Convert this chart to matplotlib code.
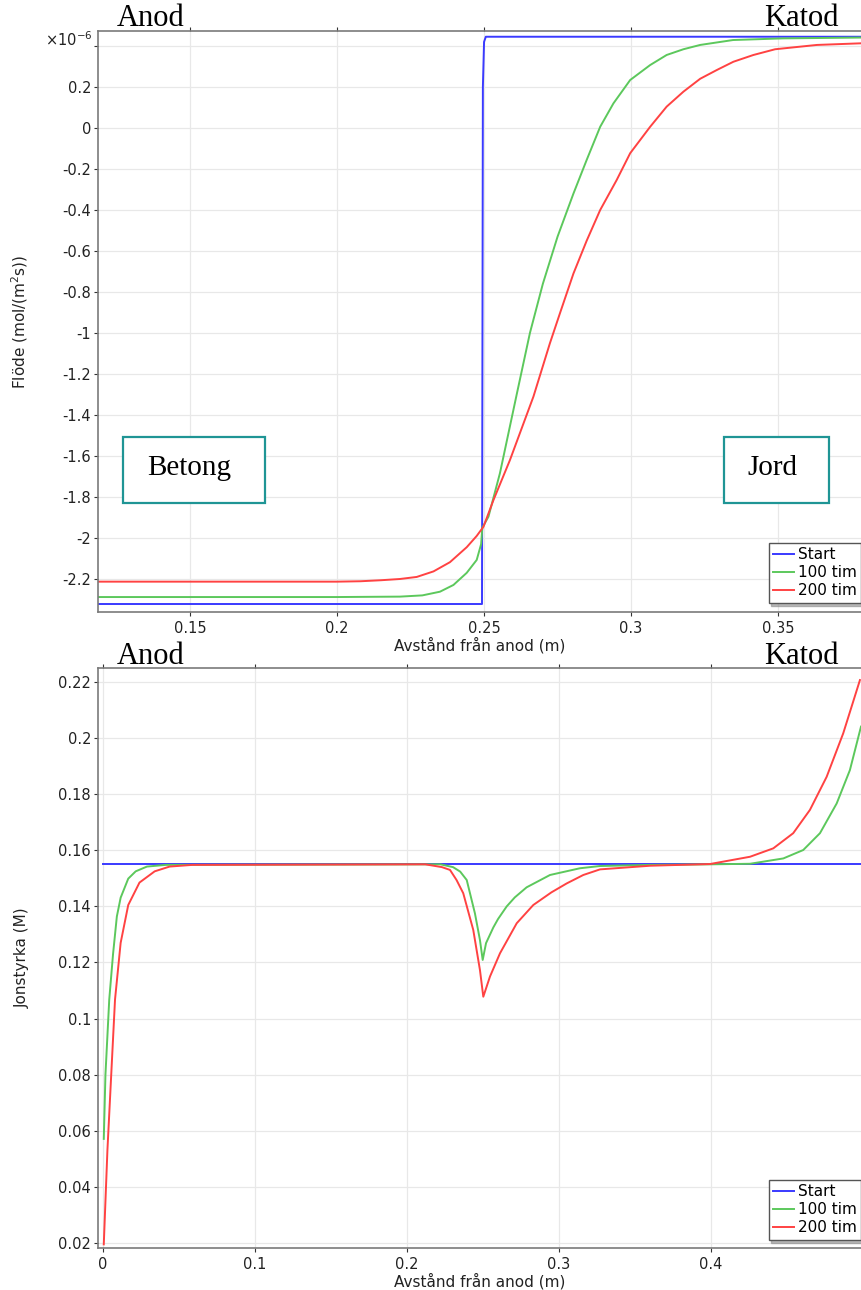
"""Flux and ionic strength profiles between anode and cathode (two stacked panels)."""

import matplotlib

matplotlib.use("Agg")
import matplotlib.pyplot as plt
from matplotlib.patches import Rectangle
from matplotlib.ticker import FuncFormatter, MultipleLocator

# ---- top panel: flux (x1e-6 mol/(m^2 s)) vs distance from anode (m)
flux_start_x = [0.118, 0.2493, 0.2496, 0.2500, 0.2506, 0.3782]
flux_start_y = [-2.322, -2.322, 0.20, 0.42, 0.445, 0.445]

flux_100_x = [0.118, 0.200, 0.2214, 0.229, 0.235, 0.2396, 0.2441, 0.2475, 0.2490, 0.2494,
              0.2515, 0.2554, 0.2611, 0.2656, 0.2700, 0.2750, 0.2804, 0.2849, 0.2895, 0.2940,
              0.2997, 0.3065, 0.3121, 0.3178, 0.3235, 0.3347, 0.3517, 0.3782]
flux_100_y = [-2.288, -2.288, -2.286, -2.28, -2.262, -2.229, -2.17, -2.107, -2.03, -1.95,
              -1.896, -1.684, -1.30, -1.0, -0.76, -0.53, -0.32, -0.156, 0.006, 0.120,
              0.234, 0.307, 0.356, 0.384, 0.405, 0.429, 0.437, 0.441]

flux_200_x = [0.118, 0.200, 0.208, 0.2150, 0.2214, 0.2271, 0.2328, 0.2384, 0.2441, 0.2475,
              0.2498, 0.2532, 0.2588, 0.2668, 0.2724, 0.2759, 0.2804, 0.2849, 0.2895, 0.2951,
              0.2997, 0.3065, 0.3121, 0.3178, 0.3235, 0.3292, 0.3348, 0.3416, 0.3490, 0.3632,
              0.3782]
flux_200_y = [-2.213, -2.213, -2.211, -2.206, -2.2, -2.19, -2.163, -2.118, -2.045, -1.99,
              -1.945, -1.815, -1.62, -1.31, -1.05, -0.90, -0.71, -0.55, -0.40, -0.254,
              -0.123, 0.006, 0.104, 0.177, 0.24, 0.283, 0.323, 0.356, 0.384, 0.405,
              0.413]

# ---- bottom panel: ionic strength (M) vs distance from anode (m)
ion_start_x = [0.0, 0.5]
ion_start_y = [0.155, 0.155]

ion_100_x = [0.0005, 0.0016, 0.0041, 0.0066, 0.0091, 0.0116, 0.0166, 0.0215, 0.0289, 0.0414,
             0.222, 0.2303, 0.2350, 0.2393, 0.2447, 0.2480, 0.2498, 0.2520, 0.2568, 0.2599,
             0.2656, 0.2709, 0.2787, 0.2941, 0.3138, 0.327, 0.36, 0.40, 0.4257, 0.4476,
             0.4607, 0.4717, 0.4827, 0.4914, 0.4987]
ion_100_y = [0.0571, 0.080, 0.1068, 0.123, 0.1364, 0.1431, 0.1499, 0.1525, 0.1542, 0.1548,
             0.155, 0.1540, 0.1524, 0.1494, 0.1375, 0.128, 0.1209, 0.1269, 0.1325, 0.1355,
             0.1400, 0.1432, 0.1468, 0.1512, 0.1536, 0.1544, 0.1548, 0.155, 0.1552, 0.1571,
             0.1601, 0.1661, 0.1767, 0.1886, 0.2041]

ion_200_x = [0.0005, 0.0029, 0.0054, 0.0079, 0.0116, 0.0166, 0.024, 0.034, 0.0438, 0.0588,
             0.2120, 0.2230, 0.2283, 0.2326, 0.2370, 0.2436, 0.2480, 0.2502, 0.2546, 0.2612,
             0.2722, 0.2831, 0.2950, 0.3051, 0.3160, 0.327, 0.36, 0.3993, 0.4257, 0.441,
             0.4541, 0.4651, 0.4761, 0.487, 0.498]
ion_200_y = [0.0195, 0.0531, 0.080, 0.1068, 0.127, 0.1405, 0.1485, 0.1525, 0.1542, 0.1548,
             0.155, 0.1540, 0.1530, 0.1494, 0.1447, 0.1316, 0.1173, 0.1078, 0.115, 0.1233,
             0.1340, 0.1405, 0.1450, 0.1482, 0.1512, 0.1532, 0.1545, 0.1551, 0.1577, 0.1607,
             0.1661, 0.1744, 0.1862, 0.2017, 0.2207]

series_labels = ["Start", "100 tim", "200 tim"]
series_colors = ["#3a3aff", "#5cc85c", "#ff4242"]

W, H = 861, 1290
GRID = "#e8e8e8"
SPINE = "#7a7a7a"


def plain(v, _pos):
    s = f"{v:.10g}"
    return "0" if s in ("-0", "0") else s


def style_axes(ax):
    ax.grid(True, color=GRID, linewidth=0.9)
    ax.set_axisbelow(True)
    for side in ("left", "bottom", "top"):
        ax.spines[side].set_color(SPINE)
        ax.spines[side].set_linewidth(1.2)
    ax.spines["right"].set_visible(False)
    ax.tick_params(axis="both", labelsize=10.5, colors="#333333", labelcolor="#222222",
                   length=3, width=0.8, direction="out")
    ax.tick_params(axis="y", pad=2)
    ax.tick_params(axis="x", top=True)


def add_legend(ax, y_bottom):
    leg = ax.legend(loc="lower right", bbox_to_anchor=(1.0, 1 - y_bottom / H),
                    bbox_transform=fig.transFigure, borderaxespad=0, fontsize=11,
                    handlelength=1.4, handletextpad=0.2, borderpad=0.3, labelspacing=0.2,
                    fancybox=False, shadow={"color": "0.55", "alpha": 0.6}, framealpha=1)
    leg.get_frame().set_edgecolor("#555555")
    leg.get_frame().set_linewidth(1.0)


fig = plt.figure(figsize=(W / 100, H / 100), dpi=100)

# top panel
ax1 = fig.add_axes([98 / W, 1 - 612 / H, (W - 98) / W, (612 - 31) / H])
for xs, ys, lab, col in zip([flux_start_x, flux_100_x, flux_200_x],
                            [flux_start_y, flux_100_y, flux_200_y],
                            series_labels, series_colors):
    ax1.plot(xs, ys, color=col, lw=1.4, label=lab)
ax1.set_xlim(0.1187, 0.3782)
ax1.set_ylim(-2.361, 0.473)
ax1.xaxis.set_major_locator(MultipleLocator(0.05))
ax1.yaxis.set_major_locator(MultipleLocator(0.2))
ax1.xaxis.set_major_formatter(FuncFormatter(plain))
ax1.yaxis.set_major_formatter(FuncFormatter(lambda v, p: "" if v > 0.3 else plain(v, p)))
style_axes(ax1)
ax1.set_xlabel("Avstånd från anod (m)", fontsize=11, labelpad=1, color="#222222")
ax1.set_ylabel("Flöde (mol/(m$^2$s))", fontsize=11, color="#222222")
ax1.yaxis.set_label_coords((30 - 98) / (W - 98), 0.5)
fig.text(92 / W, 1 - 40 / H, r"×10$^{-6}$", ha="right", va="center", fontsize=10.5, color="#222222")
add_legend(ax1, 603)

# bottom panel
ax2 = fig.add_axes([98 / W, 1 - 1248 / H, (W - 98) / W, (1248 - 668) / H])
for xs, ys, lab, col in zip([ion_start_x, ion_100_x, ion_200_x],
                            [ion_start_y, ion_100_y, ion_200_y],
                            series_labels, series_colors):
    ax2.plot(xs, ys, color=col, lw=1.4, label=lab)
ax2.set_xlim(-0.0033, 0.4987)
ax2.set_ylim(0.0182, 0.225)
ax2.xaxis.set_major_locator(MultipleLocator(0.1))
ax2.yaxis.set_major_locator(MultipleLocator(0.02))
ax2.xaxis.set_major_formatter(FuncFormatter(plain))
ax2.yaxis.set_major_formatter(FuncFormatter(plain))
style_axes(ax2)
ax2.set_xlabel("Avstånd från anod (m)", fontsize=11, labelpad=1, color="#222222")
ax2.set_ylabel("Jonstyrka (M)", fontsize=11, color="#222222")
ax2.yaxis.set_label_coords((30 - 98) / (W - 98), 0.5)
add_legend(ax2, 1240)

# electrode labels (serif, like the annotated original)
serif = ["Liberation Serif", "DejaVu Serif"]
for yc in (19, 656):
    fig.text(151 / W, 1 - yc / H, "Anod", ha="center", va="center", fontsize=22, family=serif)
    fig.text(801 / W, 1 - yc / H, "Katod", ha="center", va="center", fontsize=22, family=serif)

# material boxes
for (x0, x1), name, tx in [((123, 265), "Betong", 189), ((724, 829), "Jord", 772)]:
    fig.patches.append(Rectangle((x0 / W, 1 - 503 / H), (x1 - x0) / W, 66 / H,
                                 transform=fig.transFigure, fill=True, facecolor="white",
                                 edgecolor="#1f9595", linewidth=1.6, zorder=5))
    fig.text(tx / W, 1 - 468 / H, name, ha="center", va="center", fontsize=21,
             family=serif, zorder=6)

fig.savefig("out.png", dpi=100)
